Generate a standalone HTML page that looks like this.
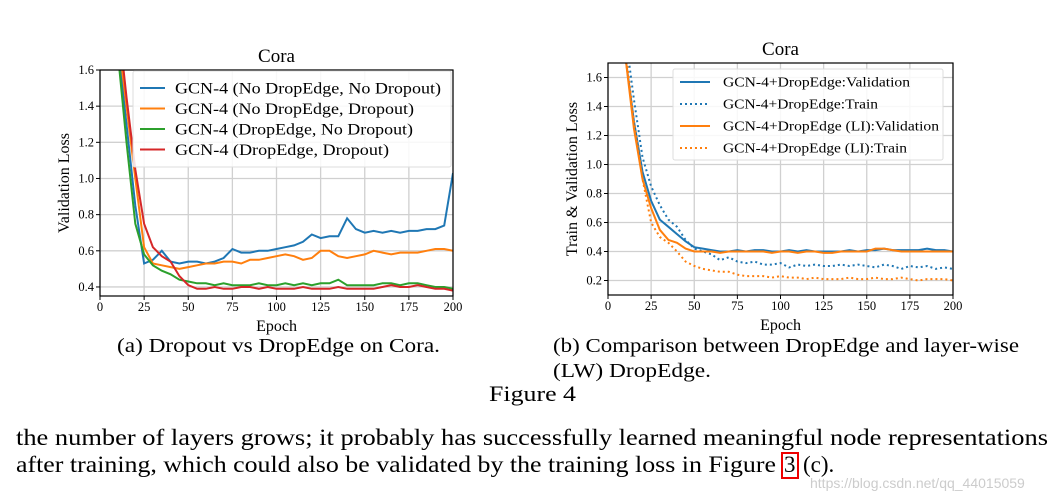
<!DOCTYPE html>
<html><head><meta charset="utf-8"><style>
body{margin:0;background:#fff;}
svg{display:block;font-family:"Liberation Serif",serif;}
</style></head><body>
<svg id="fig" width="1063" height="502" viewBox="0 0 1063 502" xmlns="http://www.w3.org/2000/svg">
<g id="chartA"></g>
<g id="chartB"></g>
<text x="117" y="352" font-size="20" textLength="323" lengthAdjust="spacingAndGlyphs">(a) Dropout vs DropEdge on Cora.</text>
<text x="553" y="352" font-size="20" textLength="466" lengthAdjust="spacingAndGlyphs">(b) Comparison between DropEdge and layer-wise</text>
<text x="553" y="377" font-size="20" textLength="158" lengthAdjust="spacingAndGlyphs">(LW) DropEdge.</text>
<text x="489" y="401" font-size="22" textLength="87" lengthAdjust="spacingAndGlyphs">Figure 4</text>
<text x="16" y="445" font-size="23" textLength="1032" lengthAdjust="spacingAndGlyphs">the number of layers grows; it probably has successfully learned meaningful node representations</text>
<text x="16" y="472" font-size="23" textLength="760" lengthAdjust="spacingAndGlyphs">after training, which could also be validated by the training loss in Figure</text>
<rect x="782" y="453" width="16" height="25" fill="none" stroke="#e00" stroke-width="2"/>
<text x="784" y="472" font-size="23">3</text>
<text x="803" y="472" font-size="23">(c).</text>
<text x="810" y="488" font-size="14" fill="#ccc" font-family="Liberation Sans, sans-serif">https://blog.csdn.net/qq_44015059</text>
</svg>
<script>
const epochs=[0,5,10,15,20,25,30,35,40,45,50,55,60,65,70,75,80,85,90,95,100,105,110,115,120,125,130,135,140,145,150,155,160,165,170,175,180,185,190,195,200];
const aBlue=[2.5,2.2,1.75,1.3,0.85,0.53,0.55,0.6,0.54,0.53,0.54,0.54,0.53,0.54,0.56,0.61,0.59,0.59,0.6,0.6,0.61,0.62,0.63,0.65,0.69,0.67,0.68,0.68,0.78,0.72,0.7,0.71,0.7,0.71,0.7,0.71,0.71,0.72,0.72,0.74,1.03];
const aOrange=[2.5,2.2,1.8,1.4,1.0,0.62,0.53,0.52,0.51,0.5,0.51,0.52,0.53,0.53,0.54,0.54,0.53,0.55,0.55,0.56,0.57,0.58,0.57,0.55,0.56,0.6,0.6,0.57,0.56,0.57,0.58,0.6,0.59,0.58,0.59,0.59,0.59,0.6,0.61,0.61,0.6];
const aGreen=[2.5,2.1,1.7,1.2,0.75,0.58,0.52,0.49,0.47,0.44,0.43,0.42,0.42,0.41,0.42,0.41,0.41,0.41,0.42,0.41,0.41,0.42,0.41,0.42,0.41,0.42,0.42,0.44,0.41,0.41,0.41,0.41,0.42,0.42,0.41,0.42,0.42,0.41,0.4,0.4,0.39];
const aRed=[2.5,2.3,1.9,1.45,1.05,0.75,0.62,0.57,0.54,0.46,0.41,0.39,0.39,0.4,0.39,0.39,0.4,0.4,0.39,0.4,0.39,0.39,0.39,0.4,0.39,0.39,0.39,0.4,0.39,0.39,0.39,0.39,0.4,0.41,0.4,0.4,0.41,0.4,0.39,0.39,0.38];
const bBlueVal=[2.5,2.2,1.75,1.3,0.95,0.75,0.62,0.57,0.52,0.47,0.43,0.42,0.41,0.4,0.4,0.41,0.4,0.41,0.41,0.4,0.4,0.41,0.4,0.41,0.4,0.4,0.4,0.4,0.41,0.4,0.41,0.41,0.42,0.41,0.41,0.41,0.41,0.42,0.41,0.41,0.4];
const bBlueTrain=[2.6,2.3,1.9,1.45,1.05,0.85,0.72,0.62,0.57,0.48,0.42,0.4,0.38,0.34,0.36,0.33,0.32,0.33,0.31,0.31,0.32,0.29,0.31,0.3,0.31,0.3,0.3,0.31,0.3,0.31,0.3,0.29,0.31,0.3,0.28,0.3,0.29,0.3,0.28,0.29,0.28];
const bOrangeVal=[2.5,2.2,1.75,1.25,0.9,0.7,0.55,0.48,0.46,0.42,0.4,0.4,0.4,0.39,0.4,0.4,0.4,0.4,0.4,0.39,0.4,0.4,0.39,0.4,0.4,0.39,0.39,0.4,0.4,0.4,0.4,0.42,0.42,0.41,0.4,0.4,0.4,0.4,0.4,0.4,0.4];
const bOrangeTrain=[2.6,2.25,1.8,1.3,0.9,0.6,0.5,0.46,0.4,0.33,0.3,0.28,0.27,0.26,0.26,0.24,0.23,0.23,0.23,0.22,0.23,0.22,0.22,0.21,0.22,0.21,0.21,0.21,0.22,0.21,0.21,0.22,0.21,0.21,0.22,0.21,0.2,0.21,0.21,0.21,0.2];
const xTicks=[0,25,50,75,100,125,150,175,200];
const aYTicks=[0.4,0.6,0.8,1.0,1.2,1.4,1.6];
const bYTicks=[0.2,0.4,0.6,0.8,1.0,1.2,1.4,1.6];
const aLegend=["GCN-4 (No DropEdge, No Dropout)","GCN-4 (No DropEdge, Dropout)","GCN-4 (DropEdge, No Dropout)","GCN-4 (DropEdge, Dropout)"];
const bLegend=["GCN-4+DropEdge:Validation","GCN-4+DropEdge:Train","GCN-4+DropEdge (LI):Validation","GCN-4+DropEdge (LI):Train"];
const C={blue:"#1f77b4",orange:"#ff7f0e",green:"#2ca02c",red:"#d62728"};
const NS="http://www.w3.org/2000/svg";
function mk(p,t,a,txt){const e=document.createElementNS(NS,t);for(const k in a)e.setAttribute(k,a[k]);if(txt!==undefined)e.textContent=txt;p.appendChild(e);return e;}
function chart(g,cfg){
  const {x0,x1,y0,y1,ymin,ymax,yTicks,series,legend,title,ylab}=cfg;
  const X=v=>x0+(v-0)/(200-0)*(x1-x0);
  const Y=v=>y1-(v-ymin)/(ymax-ymin)*(y1-y0);
  const cid="clip"+g.id;
  const cp=mk(g,"clipPath",{id:cid});mk(cp,"rect",{x:x0,y:y0,width:x1-x0,height:y1-y0});
  xTicks.forEach(t=>{const l=mk(g,"line",{x1:X(t),x2:X(t),y1:y0,y2:y1,stroke:"#d0d0d0","stroke-width":1.3});
    
    
    mk(g,"line",{x1:X(t),x2:X(t),y1:y1,y2:y1+4,stroke:"#000"});
    const tx=mk(g,"text",{x:X(t),y:y1+15,"font-size":12.5,"text-anchor":"middle"},String(t));
    
    });
  yTicks.forEach(t=>{const l=mk(g,"line",{x1:x0,x2:x1,y1:Y(t),y2:Y(t),stroke:"#d0d0d0","stroke-width":1.3});
    
    
    mk(g,"line",{x1:x0-4,x2:x0,y1:Y(t),y2:Y(t),stroke:"#000"});
    const tx=mk(g,"text",{x:x0-6,y:Y(t)+4,"font-size":12.5,"text-anchor":"end"},t.toFixed(1));
    
    });
  const sg=mk(g,"g",{"clip-path":"url(#"+cid+")"});
  series.forEach(s=>{const d=s.vals.map((v,i)=>(i?"L":"M")+X(epochs[i]).toFixed(1)+","+Y(v).toFixed(1)).join("");
    const p=mk(sg,"path",{d:d,fill:"none",stroke:s.color,"stroke-width":2,"stroke-dasharray":s.dash||"none"});
    
    });
  const fr=mk(g,"rect",{x:x0,y:y0,width:x1-x0,height:y1-y0,fill:"none",stroke:"#000","stroke-width":1.2});
  
  
  const lg=mk(g,"g",{});
  
  
  mk(lg,"rect",{x:legend.x,y:legend.y,width:legend.w,height:legend.h,fill:"#fff","fill-opacity":0.85,stroke:"#ddd",rx:2});
  legend.items.forEach((it,i)=>{const yy=legend.y+legend.dy0+i*legend.step;
    mk(lg,"line",{x1:legend.lx0,x2:legend.lx1,y1:yy,y2:yy,stroke:series[i].color,"stroke-width":2,"stroke-dasharray":series[i].dash||"none"});
    const t=mk(lg,"text",{x:legend.tx,y:yy+legend.fs*0.35,"font-size":legend.fs,textLength:legend.tl[i],lengthAdjust:"spacingAndGlyphs"},it);
    
    });
  const tt=mk(g,"text",{x:(x0+x1)/2,y:y0-8,"font-size":19,"text-anchor":"middle"},title);
  
  
  const xl=mk(g,"text",{x:(x0+x1)/2,y:y1+35,"font-size":16,"text-anchor":"middle"},"Epoch");
  
  
  const yc=(y0+y1)/2;
  const yl=mk(g,"text",{x:0,y:0,"font-size":16,"text-anchor":"middle",transform:`translate(${cfg.ylx},${yc}) rotate(-90)`},ylab);
  
  
}
chart(document.getElementById("chartA"),{x0:100,x1:453,y0:70,y1:296,ymin:0.35,ymax:1.6,yTicks:aYTicks,title:"Cora",ylab:"Validation Loss",ylx:69,
 series:[{vals:aBlue,color:C.blue,name:"line-no-dropedge-no-dropout"},{vals:aOrange,color:C.orange,name:"line-no-dropedge-dropout"},{vals:aGreen,color:C.green,name:"line-dropedge-no-dropout"},{vals:aRed,color:C.red,name:"line-dropedge-dropout"}],
 legend:{x:133,y:71,w:318,h:96,dy0:17,step:20.5,lx0:140,lx1:165,tx:175,fs:16,tl:[266,239,238,214],items:aLegend}});
chart(document.getElementById("chartB"),{x0:608,x1:953,y0:63,y1:295,ymin:0.1,ymax:1.7,yTicks:bYTicks,title:"Cora",ylab:"Train & Validation Loss",ylx:577,
 series:[{vals:bBlueVal,color:C.blue,name:"line-dropedge-validation"},{vals:bBlueTrain,color:C.blue,dash:"2,3",name:"line-dropedge-train"},{vals:bOrangeVal,color:C.orange,name:"line-li-validation"},{vals:bOrangeTrain,color:C.orange,dash:"2,3",name:"line-li-train"}],
 legend:{x:673,y:69,w:270,h:91,dy0:13,step:22,lx0:680,lx1:710,tx:723,fs:13.5,tl:[187,155,216,184],items:bLegend}});
</script>
</body></html>
